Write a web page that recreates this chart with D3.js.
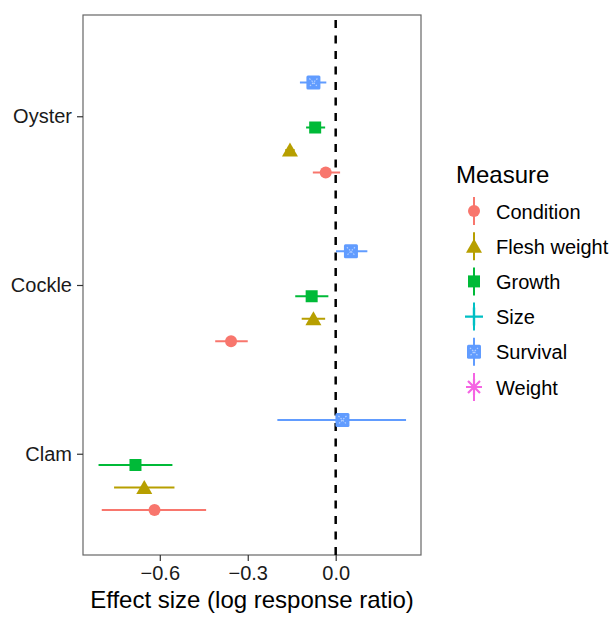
<!DOCTYPE html>
<html>
<head>
<meta charset="utf-8">
<script src="https://cdn.jsdelivr.net/npm/d3@7"></script>
<style>
  body { margin: 0; background: #fff; }
  svg { font-family: "Liberation Sans", Arial, sans-serif; }
</style>
</head>
<body>
<svg width="612" height="617"></svg>
<script>
// data
var species = ['Oyster', 'Cockle', 'Clam']
var measures = ['Condition', 'Flesh weight', 'Growth', 'Size', 'Survival', 'Weight']
var colors = ['#F8766D', '#B79F00', '#00BA38', '#00BFC4', '#619CFF', '#F564E3']
var xTicks = [-0.6, -0.3, 0.0]

// effect, lower, upper per species (Condition, Flesh weight, Growth, Survival)
var oyster = [
    { measure: 'Condition', est: -0.034, lo: -0.078, hi: 0.015 },
    { measure: 'Flesh weight', est: -0.156, lo: -0.172, hi: -0.140 },
    { measure: 'Growth', est: -0.070, lo: -0.101, hi: -0.036 },
    { measure: 'Survival', est: -0.076, lo: -0.122, hi: -0.032 }
]
var cockle = [
    { measure: 'Condition', est: -0.357, lo: -0.411, hi: -0.300 },
    { measure: 'Flesh weight', est: -0.076, lo: -0.116, hi: -0.036 },
    { measure: 'Growth', est: -0.082, lo: -0.138, hi: -0.025 },
    { measure: 'Survival', est: 0.052, lo: 0.001, hi: 0.108 }
]
var clam = [
    { measure: 'Condition', est: -0.618, lo: -0.798, hi: -0.442 },
    { measure: 'Flesh weight', est: -0.653, lo: -0.756, hi: -0.550 },
    { measure: 'Growth', est: -0.683, lo: -0.809, hi: -0.557 },
    { measure: 'Survival', est: 0.023, lo: -0.199, hi: 0.240 }
]

var rows = []
oyster.forEach(d => rows.push(Object.assign({ species: 'Oyster' }, d)))
cockle.forEach(d => rows.push(Object.assign({ species: 'Cockle' }, d)))
clam.forEach(d => rows.push(Object.assign({ species: 'Clam' }, d)))

var svg = d3.select('svg')
var panel = { left: 83, right: 421, top: 15, bottom: 555 }

var x = d3.scaleLinear()
    .domain([-0.862, 0.291])
    .range([panel.left, panel.right])

var y = d3.scalePoint()
    .domain(species)
    .range([panel.top, panel.bottom])
    .padding(0.6)

// dodge within 0.8 of a category step, first measure at the bottom
var dodge = d3.scaleBand()
    .domain(measures)
    .range([0.4 * y.step(), -0.4 * y.step()])

var color = d3.scaleOrdinal().domain(measures).range(colors)

function yPos(d) {
    return y(d.species) + dodge(d.measure) + dodge.bandwidth() / 2
}

// panel border
svg.append('rect')
    .attr('x', panel.left)
    .attr('y', panel.top)
    .attr('width', panel.right - panel.left)
    .attr('height', panel.bottom - panel.top)
    .attr('fill', 'none')
    .attr('stroke', '#666')
    .attr('stroke-width', 1.2)

// zero line
svg.append('line')
    .attr('x1', x(0))
    .attr('x2', x(0))
    .attr('y1', panel.bottom)
    .attr('y2', panel.top)
    .attr('stroke', '#000')
    .attr('stroke-width', 2.5)
    .attr('stroke-dasharray', '8,7.5')

// axes
var xAxis = svg.append('g')
    .attr('transform', 'translate(0,' + panel.bottom + ')')
    .call(d3.axisBottom(x).tickValues(xTicks).tickSize(6).tickPadding(5)
        .tickFormat(d => d3.format('.1f')(d).replace('-', '\u2212')))
xAxis.select('.domain').remove()
xAxis.selectAll('line').attr('stroke', '#333').attr('stroke-width', 1.2)
xAxis.selectAll('text').attr('font-size', 20).attr('fill', '#1a1a1a').attr('font-family', null)

var yAxis = svg.append('g')
    .attr('transform', 'translate(' + panel.left + ',0)')
    .call(d3.axisLeft(y).tickSize(6).tickPadding(5))
yAxis.select('.domain').remove()
yAxis.selectAll('line').attr('stroke', '#333').attr('stroke-width', 1.2)
yAxis.selectAll('text').attr('font-size', 20).attr('fill', '#1a1a1a').attr('font-family', null)

svg.append('text')
    .text('Effect size (log response ratio)')
    .attr('x', (panel.left + panel.right) / 2)
    .attr('y', 608)
    .attr('text-anchor', 'middle')
    .attr('font-size', 24)

// marker shapes
function drawShape(g, measure, col) {
    if (measure === 'Condition') {
        g.append('circle').attr('r', 6).attr('fill', col)
    } else if (measure === 'Flesh weight') {
        g.append('path').attr('d', 'M0,-7.5L8,6.5L-8,6.5Z').attr('fill', col)
    } else if (measure === 'Growth') {
        g.append('rect').attr('x', -6).attr('y', -6).attr('width', 12).attr('height', 12).attr('fill', col)
    } else if (measure === 'Size') {
        g.append('path').attr('d', 'M-9,0H9M0,-9V9').attr('stroke', col).attr('stroke-width', 2.4)
    } else if (measure === 'Survival') {
        g.append('rect').attr('x', -7).attr('y', -7).attr('width', 14).attr('height', 14)
            .attr('rx', 1.5).attr('fill', col)
        g.append('path').attr('d', 'M-4,-4L4,4M4,-4L-4,4')
            .attr('stroke', '#fff').attr('stroke-opacity', 0.55).attr('stroke-width', 1.2)
            .attr('stroke-dasharray', '1.5,1.5')
    } else if (measure === 'Weight') {
        g.append('path').attr('d', 'M-8,0H8M0,-8V8M-6,-6L6,6M6,-6L-6,6')
            .attr('stroke', col).attr('stroke-width', 2.2)
    }
}

// error bars
svg.append('g')
    .selectAll('line')
    .data(rows)
    .enter()
    .append('line')
    .attr('x1', d => x(d.lo))
    .attr('x2', d => x(d.hi))
    .attr('y1', d => yPos(d))
    .attr('y2', d => yPos(d))
    .attr('stroke', d => color(d.measure))
    .attr('stroke-width', 2)

// points
svg.append('g')
    .selectAll('g')
    .data(rows)
    .enter()
    .append('g')
    .attr('transform', d => 'translate(' + x(d.est) + ',' + yPos(d) + ')')
    .each(function (d) { drawShape(d3.select(this), d.measure, color(d.measure)) })

// legend
var legend = svg.append('g').attr('transform', 'translate(456,0)')
legend.append('text')
    .text('Measure')
    .attr('x', 0)
    .attr('y', 183)
    .attr('font-size', 24)

var keys = legend.selectAll('g.key')
    .data(measures)
    .enter()
    .append('g')
    .attr('class', 'key')
    .attr('transform', (d, i) => 'translate(18,' + (211 + i * 35.2) + ')')

keys.append('line')
    .attr('y1', -14)
    .attr('y2', 14)
    .attr('stroke', d => color(d))
    .attr('stroke-width', 2)
keys.each(function (d) { drawShape(d3.select(this), d, color(d)) })
keys.append('text')
    .text(d => d)
    .attr('x', 22)
    .attr('y', 7.5)
    .attr('font-size', 20)
</script>
</body>
</html>
